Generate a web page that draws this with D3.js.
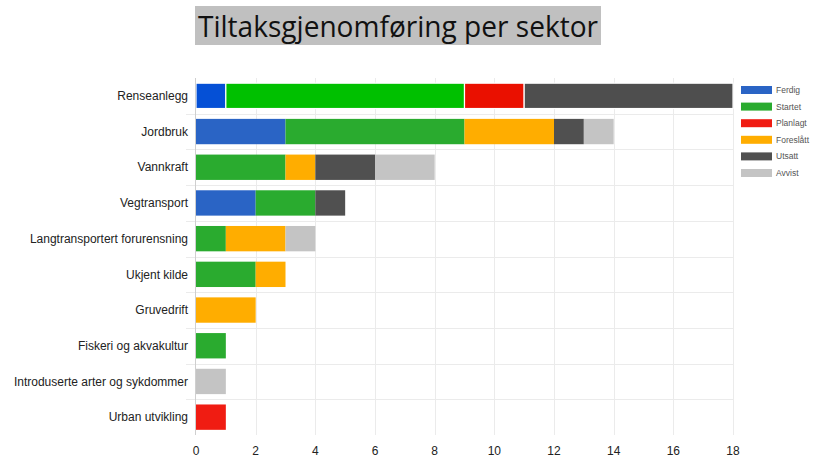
<!DOCTYPE html>
<html>
<head>
<meta charset="utf-8">
<script src="https://cdn.jsdelivr.net/npm/d3@7"></script>
<style>
  html, body { margin: 0; padding: 0; background: #fff; }
  svg { display: block; }
</style>
</head>
<body>
<svg id="chart" width="831" height="471"></svg>
<script>
const title = "Tiltaksgjenomføring per sektor";
const categories = [
  "Renseanlegg", "Jordbruk", "Vannkraft", "Vegtransport",
  "Langtransportert forurensning", "Ukjent kilde", "Gruvedrift",
  "Fiskeri og akvakultur", "Introduserte arter og sykdommer", "Urban utvikling"
];
const seriesNames = ["Ferdig", "Startet", "Planlagt", "Foreslått", "Utsatt", "Avvist"];
const ferdig    = [1, 3, 0, 2, 0, 0, 0, 0, 0, 0];
const startet   = [8, 6, 3, 2, 1, 2, 0, 1, 0, 0];
const planlagt  = [2, 0, 0, 0, 0, 0, 0, 0, 0, 1];
const foreslatt = [0, 3, 1, 0, 2, 1, 2, 0, 0, 0];
const utsatt    = [7, 1, 2, 1, 0, 0, 0, 0, 0, 0];
const avvist    = [0, 1, 2, 0, 1, 0, 0, 0, 1, 0];
const xTicks = [0, 2, 4, 6, 8, 10, 12, 14, 16, 18];
const colors = ["#2a64c5", "#2aab2f", "#f01c12", "#ffad00", "#505050", "#c4c4c4"];
const highlightCategory = "Renseanlegg";
const highlightColors = ["#0550d6", "#00c000", "#ea1000", "#ffad00", "#4e4e4e", "#c4c4c4"];

const seriesValues = [ferdig, startet, planlagt, foreslatt, utsatt, avvist];
const rows = categories.map((c, i) => {
  const o = { cat: c };
  seriesNames.forEach((s, j) => o[s] = seriesValues[j][i]);
  return o;
});

const svg = d3.select("#chart");
const margin = { left: 196, right: 98, top: 78, bottom: 36 };
const W = 831, H = 471;

const x = d3.scaleLinear().domain([0, 18]).range([margin.left, 733]);
const y = d3.scaleBand().domain(categories).range([margin.top, 435]).paddingInner(0.29).paddingOuter(0.145);

// Title
const tg = svg.append("g");
const tText = tg.append("text")
  .attr("x", 198).attr("y", 37)
  .attr("font-family", "'Open Sans', 'Noto Sans', sans-serif")
  .attr("font-size", 29)
  .attr("fill", "#111")
  .attr("textLength", 400)
  .attr("lengthAdjust", "spacingAndGlyphs")
  .text(title);
tg.insert("rect", "text")
  .attr("x", 195).attr("y", 6).attr("width", 406).attr("height", 39)
  .attr("fill", "#c0c0c0");

// Grid
const step = y.step();
const bounds = categories.map((c, i) => y(c) - (step - y.bandwidth()) / 2).slice(1);
svg.append("g").selectAll("line.h").data(bounds).join("line")
  .attr("x1", 186).attr("x2", 733)
  .attr("y1", d => Math.round(d) + 0.5).attr("y2", d => Math.round(d) + 0.5)
  .attr("stroke", "#ebebeb").attr("stroke-width", 1);
svg.append("g").selectAll("line.v").data(xTicks.slice(1)).join("line")
  .attr("x1", d => Math.round(x(d)) + 0.5).attr("x2", d => Math.round(x(d)) + 0.5)
  .attr("y1", margin.top).attr("y2", 435)
  .attr("stroke", "#ebebeb").attr("stroke-width", 1);

// Stacked bars
const stack = d3.stack().keys(seriesNames)(rows);
stack.forEach((layer, j) => {
  svg.append("g").selectAll("rect").data(layer.filter(d => d[1] - d[0] > 0)).join("rect")
    .attr("x", d => x(d[0]))
    .attr("width", d => x(d[1]) - x(d[0]))
    .attr("y", d => y(d.data.cat))
    .attr("height", y.bandwidth())
    .attr("fill", d => d.data.cat === highlightCategory ? highlightColors[j] : colors[j])
    .attr("stroke", d => d.data.cat === highlightCategory ? "#fff" : "none")
    .attr("stroke-width", 1.2);
});

// Left axis line
svg.append("line")
  .attr("x1", margin.left - 0.5).attr("x2", margin.left - 0.5)
  .attr("y1", margin.top).attr("y2", 435)
  .attr("stroke", "#cfcfcf");

// Y labels
svg.append("g").selectAll("text").data(categories).join("text")
  .attr("x", 188)
  .attr("y", d => y(d) + y.bandwidth() / 2)
  .attr("dy", "0.35em")
  .attr("text-anchor", "end")
  .attr("font-family", "'Liberation Sans', Arial, sans-serif")
  .attr("font-size", 12)
  .attr("fill", "#222")
  .text(d => d);

// X tick labels
svg.append("g").selectAll("text").data(xTicks).join("text")
  .attr("x", d => x(d))
  .attr("y", 455)
  .attr("text-anchor", "middle")
  .attr("font-family", "'Liberation Sans', Arial, sans-serif")
  .attr("font-size", 12)
  .attr("fill", "#222")
  .text(d => d);

// Legend
const lg = svg.append("g").selectAll("g").data(seriesNames).join("g")
  .attr("transform", (d, i) => `translate(741, ${86 + i * 16.6})`);
lg.append("rect").attr("width", 31).attr("height", 8)
  .attr("fill", (d, i) => colors[i]);
lg.append("text").attr("x", 35).attr("y", 4).attr("dy", "0.35em")
  .attr("font-family", "'Liberation Sans', Arial, sans-serif")
  .attr("font-size", 8.5)
  .attr("fill", "#555")
  .text(d => d);
</script>
</body>
</html>
